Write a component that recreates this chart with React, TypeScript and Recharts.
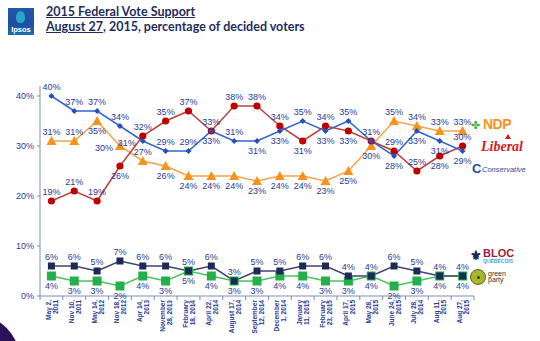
import React from 'react';
import { LineChart, Line, XAxis, YAxis } from 'recharts';

// survey dates, split into the two lines shown under the axis
const tickTop = [
  'May 2,', 'Nov 10,', 'May 14,', 'Nov 18,', 'Apr 14,', 'November', 'February', 'April 22,', 'August 17,',
  'September', 'December', 'January', 'February', 'April 17,', 'May 28,', 'June 24,', 'July 28,', 'Aug 11,', 'Aug 27,',
];
const tickBottom = [
  '2011', '2011', '2012', '2012', '2013', '28, 2013', '18, 2014', '2014', '2014',
  '12, 2014', '1, 2014', '11, 2015', '23, 2015', '2015', '2015', '2015', '2014', '2015', '2015',
];

const conservative = [40, 37, 37, 34, 31, 29, 29, 33, 31, 31, 33, 35, 33, 35, 31, 28, 33, 31, 29];
const liberal = [19, 21, 19, 26, 32, 35, 37, 33, 38, 38, 34, 31, 34, 33, 31, 29, 25, 28, 30];
const ndp = [31, 31, 35, 30, 27, 26, 24, 24, 24, 23, 24, 24, 23, 25, 30, 35, 34, 33, 33];
const bloc = [6, 6, 5, 7, 6, 6, 5, 6, 3, 5, 5, 6, 6, 4, 4, 6, 5, 4, 4];
const green = [4, 3, 3, 2, 4, 3, 5, 4, 3, 3, 4, 4, 3, 3, 4, 2, 3, 4, 4];

const yTicks = [0, 10, 20, 30, 40];

// where each value label sits relative to its point
type Side = 'up' | 'down' | 'left' | 'right' | 'none';
const consSides: Side[] = ['up', 'up', 'up', 'up', 'left', 'up', 'up', 'down', 'up', 'down', 'down', 'up', 'down', 'up', 'up', 'down', 'down', 'down', 'down'];
const libSides: Side[] = ['up', 'up', 'up', 'down', 'up', 'up', 'up', 'up', 'up', 'up', 'up', 'down', 'up', 'down', 'none', 'up', 'up', 'down', 'up'];
const ndpSides: Side[] = ['up', 'up', 'down', 'left', 'up', 'down', 'down', 'down', 'down', 'down', 'down', 'down', 'down', 'down', 'down', 'up', 'up', 'up', 'up'];

const data = tickTop.map((t, i) => ({
  name: i,
  conservative: conservative[i],
  liberal: liberal[i],
  ndp: ndp[i],
  bloc: bloc[i],
  green: green[i],
}));

const LABEL_COLOR = '#1f3c96';
const BAND = 434 / 19;

function valueLabel(cx: number, cy: number, v: number, side: Side) {
  if (side === 'none') return null;
  let x = cx;
  let y = cy - 6;
  let anchor: 'middle' | 'end' | 'start' = 'middle';
  if (side === 'down') y = cy + 13;
  if (side === 'left') { x = cx - 7; y = cy + 5; anchor = 'end'; }
  if (side === 'right') { x = cx + 2; y = cy - 3; anchor = 'start'; }
  return (
    <text x={x} y={y} textAnchor={anchor} fontSize={9} fill={LABEL_COLOR} fontFamily="Liberation Sans, Arial, sans-serif">
      {v}%
    </text>
  );
}

const makeDot = (kind: string, values: number[], sides: Side[] | Side) => (p: any) => {
  const { cx, cy, index } = p;
  const side = Array.isArray(sides) ? sides[index] : sides;
  let shape: React.ReactNode = null;
  if (kind === 'diamond') {
    shape = <path d={`M${cx},${cy - 3} L${cx + 3},${cy} L${cx},${cy + 3} L${cx - 3},${cy} Z`} fill="#2450b8" />;
  } else if (kind === 'circle') {
    shape = <circle cx={cx} cy={cy} r={3.6} fill="#c00000" />;
  } else if (kind === 'triangle') {
    shape = <path d={`M${cx},${cy - 5} L${cx + 5},${cy + 4} L${cx - 5},${cy + 4} Z`} fill="#f7921e" />;
  } else if (kind === 'navySquare') {
    shape = <rect x={cx - 3.5} y={cy - 3.5} width={7} height={7} fill="#1d2a57" />;
  } else {
    shape = <rect x={cx - 4.5} y={cy - 4.5} width={9} height={9} fill="#23b04b" />;
  }
  return (
    <g key={`${kind}-${index}`}>
      {shape}
      {valueLabel(cx, cy, values[index], side)}
    </g>
  );
};

const XTick = (p: any) => {
  const { x, y, payload } = p;
  const i = payload.value as number;
  return (
    <g>
      <line x1={x - BAND / 2} x2={x - BAND / 2} y1={y} y2={y + 4} stroke="#7f8db0" />
      {i === tickTop.length - 1 && <line x1={x + BAND / 2} x2={x + BAND / 2} y1={y} y2={y + 4} stroke="#7f8db0" />}
      <text
        transform={`translate(${x},${y + 4}) rotate(-90)`}
        textAnchor="end"
        fontSize={6.5}
        fontWeight="bold"
        fill="#1f3a93"
        fontFamily="Liberation Sans, Arial, sans-serif"
      >
        <tspan x={0} dy={-0.5}>{tickTop[i]}</tspan>
        <tspan x={0} dy={7}>{tickBottom[i]}</tspan>
      </text>
    </g>
  );
};

export default function App() {
  return (
    <div style={{ position: 'absolute', left: 0, top: 0, width: 540, height: 341, background: '#fff', overflow: 'hidden', fontFamily: 'Lato, sans-serif' }}>
      {/* Ipsos logo */}
      <div style={{ position: 'absolute', left: 8, top: 8, width: 26, height: 27, background: 'linear-gradient(180deg,#2357a8 0%,#1f4f9f 60%,#1b6fb0 100%)' }}>
        <div style={{ position: 'absolute', left: 8, top: 3, width: 9, height: 12, borderRadius: '50% 50% 40% 40%', background: '#27a4c6' }} />
        <div style={{ position: 'absolute', left: 0, top: 17, width: 26, textAlign: 'center', color: '#fff', fontSize: 7.5, fontWeight: 'bold', fontFamily: 'Liberation Sans, Arial' }}>Ipsos</div>
      </div>
      <div style={{ position: 'absolute', left: 46, top: 4, color: '#1f2d5e', fontWeight: 'bold', fontSize: 12.5, lineHeight: '15px' }}>
        <div style={{ textDecoration: 'underline' }}>2015 Federal Vote Support</div>
        <div><span style={{ textDecoration: 'underline' }}>August 27</span>, 2015, percentage of decided voters</div>
      </div>

      <div style={{ position: 'absolute', left: 0, top: 0 }}>
        <LineChart width={540} height={341} data={data} margin={{ top: 86, right: 66, left: 0, bottom: 0 }}>
          <XAxis
            dataKey="name"
            padding={{ left: BAND / 2, right: BAND / 2 }}
            height={45}
            tickSize={0}
            tickMargin={0}
            tickLine={false}
            interval={0}
            axisLine={{ stroke: '#7f8db0' }}
            tick={<XTick />}
          />
          <YAxis
            width={40}
            domain={[0, 42]}
            ticks={yTicks}
            tickFormatter={(v) => `${v}%`}
            tickSize={3}
            tickMargin={3}
            axisLine={{ stroke: '#7f8db0' }}
            tickLine={{ stroke: '#7f8db0' }}
            tick={{ fontSize: 9, fill: LABEL_COLOR, fontFamily: 'Liberation Sans, Arial, sans-serif' }}
          />
          <Line dataKey="green" stroke="#4cc35a" strokeWidth={1.5} dot={makeDot('greenSquare', green, 'down')} isAnimationActive={false} />
          <Line dataKey="bloc" stroke="#3b4670" strokeWidth={1.5} dot={makeDot('navySquare', bloc, 'up')} isAnimationActive={false} />
          <Line dataKey="ndp" stroke="#f5a24c" strokeWidth={1.5} dot={makeDot('triangle', ndp, ndpSides)} isAnimationActive={false} />
          <Line dataKey="liberal" stroke="#b8433d" strokeWidth={1.5} dot={makeDot('circle', liberal, libSides)} isAnimationActive={false} />
          <Line dataKey="conservative" stroke="#3566c8" strokeWidth={1.5} dot={makeDot('diamond', conservative, consSides)} isAnimationActive={false} />
        </LineChart>
      </div>

      {/* party legend logos */}
      <div style={{ position: 'absolute', left: 471, top: 119, color: '#4cae3c', fontSize: 11, lineHeight: '12px' }}>✤</div>
      <div style={{ position: 'absolute', left: 483, top: 116, color: '#f7921e', fontSize: 14, fontWeight: 900, fontFamily: 'Liberation Sans, Arial', lineHeight: '16px', letterSpacing: -0.5 }}>NDP</div>
      <div style={{ position: 'absolute', left: 505, top: 134, width: 0, height: 0, borderLeft: '3px solid transparent', borderRight: '3px solid transparent', borderBottom: '5px solid #d71920' }} />
      <div style={{ position: 'absolute', left: 481, top: 139, color: '#d71920', fontSize: 14, fontStyle: 'italic', fontWeight: 'bold', fontFamily: 'Liberation Serif, serif', lineHeight: '16px' }}>Liberal</div>
      <div style={{ position: 'absolute', left: 472, top: 162, color: '#1f4ea8', fontSize: 13, fontWeight: 'bold', fontFamily: 'Liberation Sans, Arial', lineHeight: '14px' }}>C</div>
      <div style={{ position: 'absolute', left: 482, top: 165, color: '#1f4ea8', fontSize: 7.5, fontStyle: 'italic', fontFamily: 'Liberation Sans, Arial', lineHeight: '9px' }}>Conservative</div>

      <div style={{ position: 'absolute', left: 470, top: 248, width: 12, height: 15, color: '#1d2a57', fontSize: 13, fontWeight: 'bold', lineHeight: '15px' }}>⚜</div>
      <div style={{ position: 'absolute', left: 483, top: 247, color: '#a11d3c', fontSize: 11, fontWeight: 900, fontFamily: 'Liberation Sans, Arial', lineHeight: '12px' }}>BLOC</div>
      <div style={{ position: 'absolute', left: 483, top: 258, color: '#3aa6db', fontSize: 5, fontWeight: 'bold', fontFamily: 'Liberation Sans, Arial', lineHeight: '6px' }}>QUÉBÉCOIS</div>
      <div style={{ position: 'absolute', left: 470, top: 269, width: 14, height: 14, borderRadius: '50%', background: '#a9b52c', border: '1px solid #5c6418' }}>
        <div style={{ position: 'absolute', left: 5.5, top: 5.5, width: 3, height: 3, borderRadius: '50%', background: '#3d4410' }} />
      </div>
      <div style={{ position: 'absolute', left: 488, top: 271, color: '#333', fontSize: 7, fontFamily: 'Liberation Sans, Arial', lineHeight: '6px' }}>
        <div>green</div>
        <div>party</div>
      </div>

      {/* corner decoration */}
      <div style={{ position: 'absolute', left: -70, top: 315, width: 90, height: 90, borderRadius: '50%', background: '#2b1156' }} />
    </div>
  );
}
